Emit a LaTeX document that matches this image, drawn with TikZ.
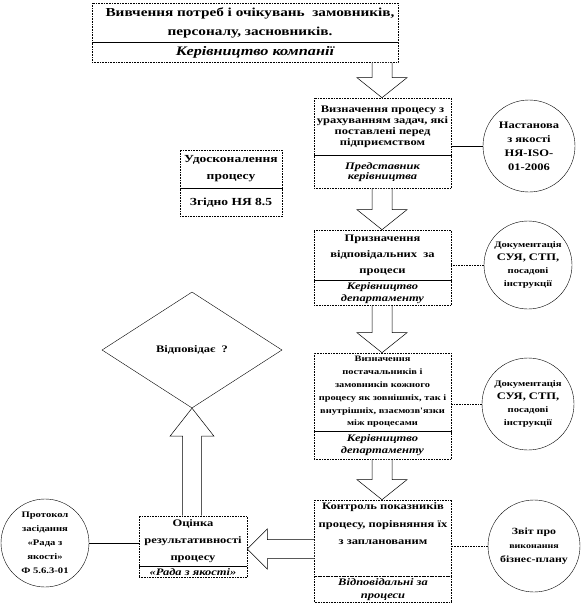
\documentclass[tikz,border=0pt]{standalone}
\usepackage{fontspec}
\setmainfont{Liberation Serif}
\newfontfamily\wf{Liberation Serif}[FakeStretch=1.25]
\usetikzlibrary{positioning,calc,shapes.geometric}
\newcommand{\fs}[2]{\fontsize{#1}{#2}\selectfont}
% hollow block arrow going down from one box to the next
\newcommand{\blkdown}[3]{%
\draw[blk] let \p1=(#1.south), \p2=(#2.north) in
 (#3pt-10pt,\y1) -- (#3pt-10pt,\y2+20pt) -- (#3pt-25pt,\y2+20pt) -- (#3pt,\y2)
 -- (#3pt+25pt,\y2+20pt) -- (#3pt+10pt,\y2+20pt) -- (#3pt+10pt,\y1);}
\tikzset{cell/.style 2 args={draw,densely dotted,line width=.6pt,inner sep=0pt,align=center,font=\wf\bfseries\fs{#1}{#2}},
 role/.style 2 args={cell={#1}{#2},font=\wf\bfseries\itshape\fs{#1}{#2}},
 src/.style 2 args={circle,draw,line width=.4pt,inner sep=0pt,align=center,font=\wf\bfseries\fs{#1}{#2}},
 link/.style={line width=.6pt},dots/.style={link,densely dotted},
 blk/.style={draw,fill=white,line width=.5pt}}

\begin{document}
\begin{tikzpicture}[x=1pt,y=-1pt]
\useasboundingbox (0,0) rectangle (584,606);
% process chain
\node[cell={12.2}{19},minimum width=306,minimum height=39] (need) at (245,22.5) {\hspace*{10pt}Вивчення потреб і очікувань\ \ замовників,\\\hspace*{10pt}персоналу, засновників.};
\node[role={13}{15},minimum width=306,minimum height=20,below=0pt of need] (needr) {\hspace*{20pt}Керівництво компанії};
\node[cell={10}{11},minimum width=137,minimum height=57] (def) at (382.5,126.5) {Визначення процесу з\\урахуванням задач, які\\поставлені перед\\підприємством};
\node[role={10}{10.5},minimum width=137,minimum height=33,below=0pt of def] (defr) {Представник\\керівництва};
\node[cell={10}{16},minimum width=137,minimum height=50] (resp) at (382.5,255) {Призначення\\відповідальних\ \ за\\процеси};
\node[role={10}{12},minimum width=137,minimum height=25,below=0pt of resp] (respr) {Керівництво\\департаменту};
\node[cell={8.3}{12.8},minimum width=137,minimum height=78] (sup) at (382.5,392) {Визначення\\постачальників і\\замовників кожного\\процесу як зовнішніх, так і\\внутрішніх, взаємозв'язки\\між процесами};
\node[role={10}{12},minimum width=137,minimum height=28,below=0pt of sup] (supr) {Керівництво\\департаменту};
\node[cell={10}{17.5},minimum width=137,minimum height=76] (ctl) at (383,538) {\parbox[c][70pt][t]{134pt}{\centering Контроль показників\\процесу, порівняння їх\\з запланованим}};
\node[role={10}{13},minimum width=137,minimum height=26,below=0pt of ctl] (ctlr) {Відповідальні за\\процеси};
\node[cell={10}{17},minimum width=108,minimum height=50] (eval) at (193,541) {Оцінка\\результативності\\процесу};
\node[role={10}{11},minimum width=108,minimum height=11,below=0pt of eval] (evalr) {«Рада з якості»};
\node[cell={10.8}{17},minimum width=102,minimum height=38] (imp) at (231,169) {Удосконалення\\процесу};
\node[cell={10.8}{14},minimum width=102,minimum height=28,below=0pt of imp] (impr) {Згідно НЯ 8.5};
\node[diamond,draw,line width=.4pt,aspect=1.55,minimum width=180,minimum height=116,inner sep=0pt,font=\wf\bfseries\fs{10}{12}] (ok) at (192,350) {Відповідає\ \ ?};
% documents
\node[src={10}{14},minimum size=92] (c1) at (529,146) {Настанова\\з якості\\НЯ-ISO-\\01-2006};
\node[src={8.5}{13},minimum size=88] (c2) at (528,265) {Документація\\{\fs{10}{13}СУЯ, СТП,}\\посадові\\інструкції};
\node[src={8.5}{13},minimum size=92] (c3) at (528,404) {Документація\\{\fs{10}{13}СУЯ, СТП,}\\посадові\\інструкції};
\node[src={9.5}{14},minimum size=92] (c4) at (534,546) {Звіт про\\{\fs{8}{12}виконання}\\бізнес-плану};
\node[src={8.5}{14},minimum size=88] (c5) at (45,543) {Протокол\\засідання\\«Рада з\\якості»\\Ф 5.6.3-01};
\draw[link] (c1.west) -- (c1.west -| def.east);
\draw[dots] (c2.west) -- (c2.west -| resp.east);
\draw[dots] (c3.west) -- (c3.west -| sup.east);
\draw[dots] (c4.west) -- (c4.west -| ctl.east);
\draw[link] (c5.east) -- (c5.east -| eval.west);
% block arrows
\blkdown{needr}{def}{382}
\blkdown{defr}{resp}{382}
\blkdown{respr}{sup}{382}
\blkdown{supr}{ctl}{382}
\draw[blk] let \p1=(ctl.west), \p2=(eval.east) in
 (\x1,\y1-1.5pt) -- (\x2+20pt,\y1-1.5pt) -- (\x2+20pt,\y1+9pt) -- (\x2,\y1-11pt)
 -- (\x2+20pt,\y1-31pt) -- (\x2+20pt,\y1-20.5pt) -- (\x1,\y1-20.5pt);
\draw[blk] let \p1=(eval.north), \p2=(ok.south) in
 (182.5pt,\y1) -- (182.5pt,\y2-28pt) -- (170pt,\y2-28pt) -- (192pt,\y2)
 -- (214pt,\y2-28pt) -- (201.5pt,\y2-28pt) -- (201.5pt,\y1);
\end{tikzpicture}
\end{document}
